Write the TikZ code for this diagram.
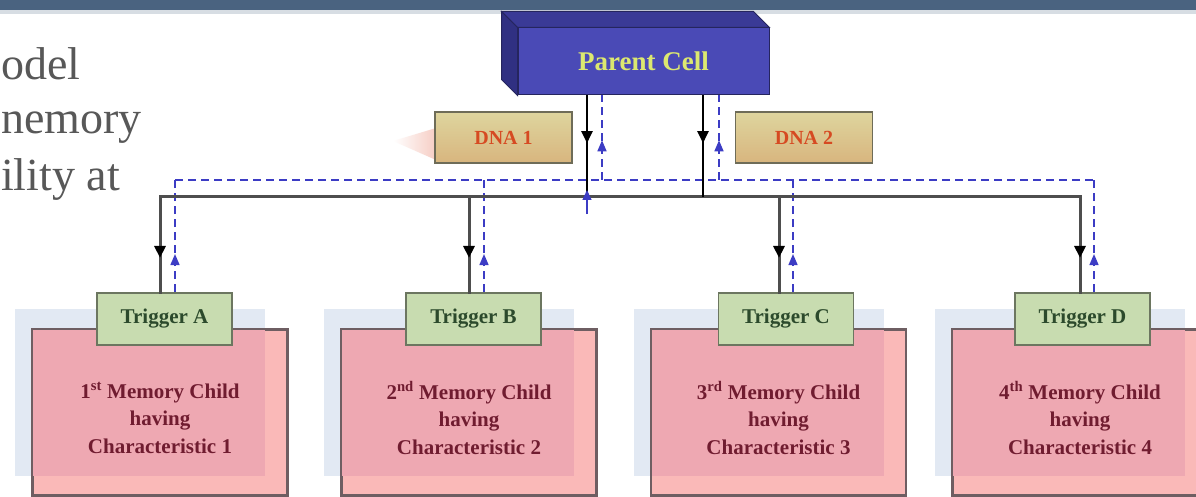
\documentclass[tikz,border=0pt]{standalone}
\usepackage{fontspec}
\setmainfont{Liberation Serif}
\usetikzlibrary{arrows.meta,decorations.markings,calc}
\definecolor{barblue}{HTML}{4A6380}
\definecolor{pfront}{HTML}{4A4AB6}
\definecolor{ptop}{HTML}{3A3A96}
\definecolor{pside}{HTML}{303082}
\definecolor{pborder}{HTML}{25255E}
\definecolor{ptext}{HTML}{DCE870}
\definecolor{dnatop}{HTML}{DED59E}
\definecolor{dnabot}{HTML}{D8B57E}
\definecolor{dnaborder}{HTML}{6E6C58}
\definecolor{dnatext}{HTML}{D64A22}
\definecolor{trigfill}{HTML}{C8DCB0}
\definecolor{trigborder}{HTML}{6C7660}
\definecolor{trigtext}{HTML}{2C4A2C}
\definecolor{memlight}{HTML}{FAB9B8}
\definecolor{memdark}{HTML}{EEA8B2}
\definecolor{memborder}{HTML}{6E5E62}
\definecolor{memtextc}{HTML}{701C30}
\definecolor{panelc}{HTML}{E2E9F3}
\definecolor{busgray}{HTML}{4E4E4E}
\definecolor{fbblue}{HTML}{3C3CC4}
\definecolor{slidetext}{HTML}{585858}
\definecolor{pinkw}{HTML}{F6CDC4}
\tikzset{
  parentface/.style={fill=pfront, draw=pborder, line width=1pt, minimum width=251pt,
    minimum height=67pt, inner sep=0pt, font=\bfseries\fontsize{27}{31}\selectfont, text=ptext},
  dnabox/.style={draw=dnaborder, line width=1.8pt, top color=dnatop, bottom color=dnabot,
    minimum width=137pt, minimum height=51pt, inner sep=0pt,
    font=\bfseries\fontsize{20}{24}\selectfont, text=dnatext},
  trigbox/.style={draw=trigborder, line width=1.6pt, fill=trigfill, minimum width=135pt,
    minimum height=52pt, inner sep=0pt, font=\bfseries\fontsize{21}{25}\selectfont, text=trigtext},
  membox/.style={draw=memborder, line width=1.6pt, minimum width=254pt, minimum height=165pt, inner sep=0pt},
  memtext/.style={align=center, font=\bfseries\fontsize{21}{27.5}\selectfont, text=memtextc},
  slide/.style={anchor=base west, inner sep=0pt, text=slidetext, font=\fontsize{46}{55}\selectfont},
  ctrlline/.style={draw=black, line width=2pt},
  busline/.style={draw=busgray, line width=3pt, line cap=rect},
  fbline/.style={draw=fbblue, line width=1.5pt, dash pattern=on 8pt off 5pt},
  downarr/.style={postaction={decorate}, decoration={markings,
    mark=at position #1 with {\arrow[black]{Triangle[width=11pt,length=12pt]}}}},
  uparr/.style={postaction={decorate}, decoration={markings,
    mark=at position #1 with {\arrow[fbblue]{Triangle[width=9pt,length=11pt]}}}}
}
\begin{document}
\begin{tikzpicture}[x=1pt,y=-1pt]
\useasboundingbox (0,0) rectangle (1196,497);
\clip (0,0) rectangle (1196,497);
\fill[white] (0,0) rectangle (1196,497);

% slide text fragments
\node[slide] (t1) at (1,80) {odel};
\node[slide] (t2) at (1,134) {nemory};
\node[slide] (t3) at (1,191) {ility at};

% top bar
\fill[barblue!22] (0,10) rectangle (1196,14);
\fill[barblue] (0,0) rectangle (1196,10);

% memory panels and boxes
\foreach \mx/\nm/\ord/\num in {160/A/st/1, 469/B/nd/2, 778.5/C/rd/3, 1080/D/th/4}{
  \fill[panelc] (\mx-145,309) rectangle (\mx+105,476);
  \node[membox, fill=memlight] (mem\nm) at (\mx,412.5) {};
  \fill[memdark] ($(mem\nm.north west)+(0.8,0.8)$) rectangle (\mx+105,476);
  \draw[memborder, line width=1.6pt] (mem\nm.north west) rectangle (mem\nm.south east);
  \node[memtext] (mt\nm) at (\mx,418) {\num\textsuperscript{\ord} Memory Child\\having\\Characteristic \num};
}

% triggers
\node[trigbox] (trigA) at (164.5,319) {Trigger A};
\node[trigbox] (trigB) at (473.5,319) {Trigger B};
\node[trigbox] (trigC) at (786,319) {Trigger C};
\node[trigbox] (trigD) at (1082.5,319) {Trigger D};

% parent cell (3D box)
\node[parentface] (parent) at (643.5,61.5) {Parent Cell};
\filldraw[fill=ptop, draw=pborder, line width=1pt] (parent.north west) -- ++(-16,-16)
  -- ($(parent.north east)+(-16,-16)$) -- (parent.north east) -- cycle;
\filldraw[fill=pside, draw=pborder, line width=1pt] (parent.north west) -- ++(-16,-16)
  -- ($(parent.south west)+(-16,-16)$) -- (parent.south west) -- cycle;

% faint wedge left of DNA 1
\shade[left color=white, right color=pinkw] (393,141) -- (436,128) -- (436,160) -- cycle;

% DNA boxes
\node[dnabox] (dna1) at (503.5,137.5) {DNA 1};
\node[dnabox] (dna2) at (804,137.5) {DNA 2};

% bus coordinates
\coordinate (p1) at (587,197);
\coordinate (p2) at (703,197);
\coordinate (q1) at (602,180);
\coordinate (q2) at (719,180);
\coordinate (sA) at (160,197);
\coordinate (sB) at (469,197);
\coordinate (sC) at (779,197);
\coordinate (sD) at (1080,197);
\coordinate (dA) at (175,180);
\coordinate (dB) at (484,180);
\coordinate (dC) at (793,180);
\coordinate (dD) at (1094,180);
\coordinate (stubTop) at (587,190);
\coordinate (stubBot) at (587,214);

% feedback dashed bus (blue)
\draw[fbline] (dA) -- (dD);
\foreach \d/\t in {dA/trigA, dB/trigB, dC/trigC, dD/trigD}{
  \draw[fbline, uparr=0.34] (\t.north -| \d) -- (\d);
}
\draw[fbline, uparr=0.47] (q1) -- (parent.south -| q1);
\draw[fbline, uparr=0.47] (q2) -- (parent.south -| q2);

% control solid bus
\draw[busline] (sA) -- (sD);
\foreach \s/\t in {sA/trigA, sB/trigB, sC/trigC, sD/trigD}{
  \draw[busline, downarr=0.64] (\s) -- (\t.north -| \s);
}
\draw[ctrlline, downarr=0.47] (parent.south -| p1) -- (p1);
\draw[ctrlline, downarr=0.47] (parent.south -| p2) -- (p2);

% blue stub on the bus
\draw[fbblue, line width=1.5pt, -{Triangle[width=9pt,length=10pt]}] (stubBot) -- (stubTop);
\end{tikzpicture}
\end{document}
